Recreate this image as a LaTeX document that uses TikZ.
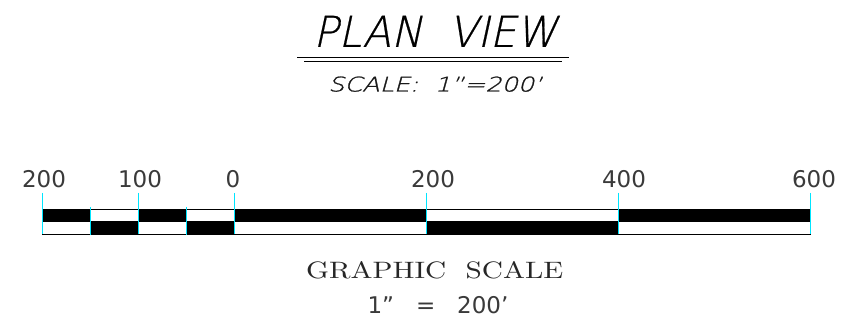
\documentclass[tikz,border=0pt]{standalone}
\usepackage{fontspec}
\usepackage{graphicx}
\newfontfamily\lblfont{DejaVu Sans}
\IfFontExistsTF{DejaVu Sans ExtraLight}
  {\newfontfamily\titlefont[FakeSlant=0.22,FakeBold=0.5]{DejaVu Sans ExtraLight}
   \newfontfamily\subfont[FakeSlant=0.22,FakeBold=1]{DejaVu Sans ExtraLight}}
  {\newfontfamily\titlefont{Latin Modern Sans}[Ligatures=TeX,ItalicFont={* Oblique}]\let\oldtf\titlefont\def\titlefont{\oldtf\itshape}\let\subfont\titlefont}
\definecolor{txt}{HTML}{3A3A3A}
\definecolor{tick}{HTML}{00E5FF}
\tikzset{
  lbl/.style={inner sep=0pt, text=txt, font=\lblfont},
  num/.style={lbl, anchor=base, font=\lblfont\fontsize{23}{23}\selectfont},
  barblk/.style={fill=black, draw=black, line width=0.6pt},
  barwht/.style={fill=white, draw=black, line width=0.6pt},
  tickline/.style={draw=tick, line width=1pt},
}
\begin{document}
\begin{tikzpicture}[x=1pt,y=-1pt]
\useasboundingbox[fill=white] (0,0) rectangle (849,328);
% title
\node[lbl, anchor=south west, text=black] (title) at (313,47) {\resizebox{244pt}{31pt}{\titlefont PLAN\ \ VIEW}};
\coordinate (u1a) at (297,57); \coordinate (u1b) at (569,57);
\coordinate (u2a) at (304,61); \coordinate (u2b) at (562,61);
\draw[line width=0.8pt] (u1a) -- (u1b);
\draw[line width=0.8pt] (u2a) -- (u2b);
\node[lbl, anchor=south west, text=black!90] (subtitle) at (328,92) {\resizebox{214pt}{15pt}{\subfont SCALE:\ \ 1”=200’}};
% bar segments (top row)
\foreach \a/\b/\s in {42/90/barblk, 90/138/barwht, 138/186/barblk, 186/234/barwht, 234/426/barblk, 426/618/barwht, 618/810/barblk}{
  \path[\s] (\a,209) rectangle (\b,221.5);
}
% bar segments (bottom row)
\foreach \a/\b/\s in {42/90/barwht, 90/138/barblk, 138/186/barwht, 186/234/barblk, 234/426/barwht, 426/618/barblk, 618/810/barwht}{
  \path[\s] (\a,221.5) rectangle (\b,234);
}
% ticks
\foreach \x in {42,138,234,426,618,810}{
  \coordinate (t\x a) at (\x,193); \coordinate (t\x b) at (\x,234);
  \draw[tickline] (t\x a) -- (t\x b);
}
\foreach \x in {90,186}{
  \coordinate (t\x a) at (\x,207); \coordinate (t\x b) at (\x,235);
  \draw[tickline] (t\x a) -- (t\x b);
}
% labels
\node[num] (l1) at (44,188) {200};
\node[num] (l2) at (140,188) {100};
\node[num] (l3) at (233,188) {0};
\node[num] (l4) at (433,188) {200};
\node[num] (l5) at (624,188) {400};
\node[num] (l6) at (814,188) {600};
% graphic scale caption
\node[lbl, anchor=south west, text=black!85] (gs) at (306,279) {\resizebox{257pt}{17pt}{\rmfamily GRAPHIC\ \ SCALE}};
\node[num] (gs2) at (438,314) {1”\ \ \ =\ \ \ 200’};
\end{tikzpicture}
\end{document}
